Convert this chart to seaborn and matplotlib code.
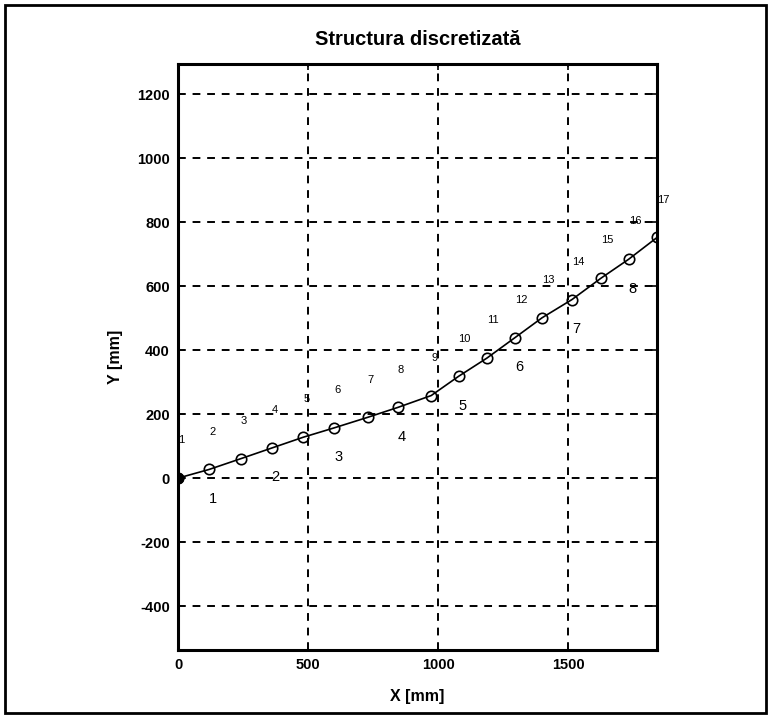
import matplotlib
matplotlib.use("Agg")
import matplotlib.pyplot as plt
import matplotlib.patches as mpatches
import seaborn as sns
import pandas as pd

# Node coordinates of the discretised structure [mm]
node_x = [0, 119, 242, 360, 482, 600, 729, 845, 973,
          1078, 1187, 1295, 1399, 1514, 1626, 1732, 1841]
node_y = [0, 27, 61, 94, 128, 157, 190, 221, 258,
          318, 375, 439, 501, 558, 625, 684, 752]
node_ids = list(range(1, 18))

# Elements: each one spans three nodes, labelled at its middle node
element_ids = list(range(1, 9))
element_mid_node = [2, 4, 6, 8, 10, 12, 14, 16]

x_ticks = [0, 500, 1000, 1500]
y_ticks = [-400, -200, 0, 200, 400, 600, 800, 1000, 1200]

nodes = pd.DataFrame({"x": node_x, "y": node_y, "node": node_ids})

sns.set_theme(style="white")
plt.rcParams["font.family"] = ["Liberation Sans", "DejaVu Sans"]
plt.rcParams.update({"text.color": "black", "axes.labelcolor": "black",
                     "xtick.color": "black", "ytick.color": "black"})

fig = plt.figure(figsize=(7.71, 7.16), dpi=100)
ax = fig.add_axes([0.2309, 0.0922, 0.6213, 0.8184])

# Beam polyline with open circular node markers
sns.lineplot(data=nodes, x="x", y="y", sort=False, ax=ax, color="black",
             linewidth=1.2, marker="o", markersize=7.5,
             markerfacecolor="none", markeredgecolor="black",
             markeredgewidth=1.2)
# Fixed support at the first node
sns.scatterplot(x=[node_x[0]], y=[node_y[0]], ax=ax, color="black",
                s=60, edgecolor="black", zorder=5)

# Node numbers above the nodes
for nx, ny, nid in zip(node_x, node_y, node_ids):
    ax.text(nx, ny + 118, str(nid), fontsize=8, ha="left", va="center",
            color="black")

# Element numbers below their middle node
for eid, mid in zip(element_ids, element_mid_node):
    ax.text(node_x[mid - 1], node_y[mid - 1] - 92, str(eid), fontsize=10.5,
            ha="left", va="center", color="black")

ax.set_xlim(0, node_x[-1])
ax.set_ylim(-537, 1294)
ax.set_xticks(x_ticks)
ax.set_yticks(y_ticks)
ax.set_xticklabels([str(t) for t in x_ticks], fontweight="bold", fontsize=10.5)
ax.set_yticklabels([str(t) for t in y_ticks], fontweight="bold", fontsize=10.5)

ax.grid(True, color="black", linestyle=(0, (4, 3.5)), linewidth=1.4)
ax.set_axisbelow(True)
ax.tick_params(direction="in", length=4, width=1.2, top=True, right=True,
               colors="black", pad=6)
for side in ax.spines.values():
    side.set_color("black")
    side.set_linewidth(2.2)

ax.set_title("Structura discretizată", fontsize=14.5, fontweight="bold",
             pad=14, color="black")
ax.set_xlabel("X [mm]", fontsize=11.5, fontweight="bold", labelpad=12)
ax.set_ylabel("Y [mm]", fontsize=11.5, fontweight="bold", labelpad=10)

# Outer frame around the whole figure
fig.patches.append(mpatches.Rectangle((0.006, 0.004), 0.988, 0.989,
                                      transform=fig.transFigure, fill=False,
                                      edgecolor="black", linewidth=2.0))

fig.savefig("out.png", dpi=100)
